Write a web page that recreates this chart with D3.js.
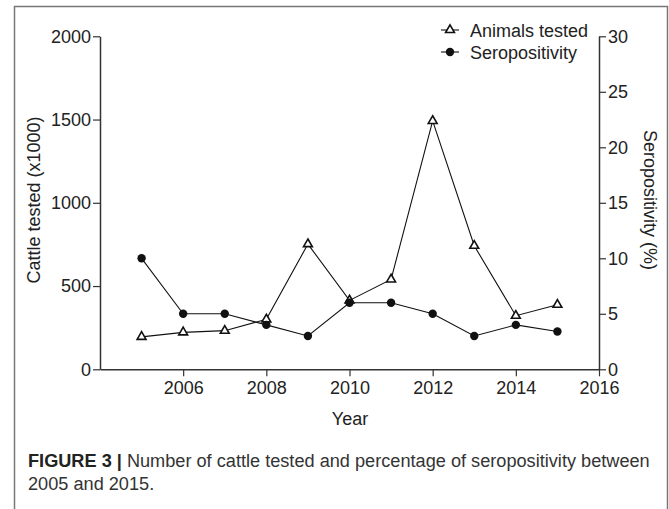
<!DOCTYPE html>
<html>
<head>
<meta charset="utf-8">
<script src="https://cdn.jsdelivr.net/npm/d3@7"></script>
<style>
  body { margin: 0; background: #fff; }
  svg { display: block; font-family: "Liberation Sans", Arial, Helvetica, sans-serif; }
</style>
</head>
<body>
<svg id="chart" width="669" height="509"></svg>
<script>
const years = [2005, 2006, 2007, 2008, 2009, 2010, 2011, 2012, 2013, 2014, 2015];
const animalsTested = [195, 222, 232, 300, 752, 414, 540, 1492, 742, 322, 388];
const seropositivity = [10, 5, 5, 4, 3, 6, 6, 5, 3, 4, 3.4];
const xTicks = [2006, 2008, 2010, 2012, 2014, 2016];
const leftTicks = [0, 500, 1000, 1500, 2000];
const rightTicks = [0, 5, 10, 15, 20, 25, 30];

const svg = d3.select('#chart');
const axisColor = '#333';
const fs = '18px';

// frame around the figure
svg.append('rect')
  .attr('x', 14.5).attr('y', 6.5)
  .attr('width', 653).attr('height', 520)
  .attr('fill', 'none')
  .attr('stroke', '#777')
  .attr('stroke-width', 1.5);

const x = d3.scaleLinear().domain([2004, 2016]).range([100, 599]);
const yLeft = d3.scaleLinear().domain([0, 2000]).range([369.3, 36.3]);
const yRight = d3.scaleLinear().domain([0, 30]).range([369.3, 36.3]);

function styleAxis(g) {
  g.select('.domain').attr('stroke', axisColor).attr('stroke-width', 1.5);
  g.selectAll('.tick line').attr('stroke', axisColor).attr('stroke-width', 1.2);
  g.selectAll('.tick text').attr('fill', '#222').style('font-size', fs);
}

svg.append('g')
  .attr('transform', 'translate(0,369.3)')
  .call(d3.axisBottom(x).tickValues(xTicks).tickFormat(d3.format('d')).tickSize(7).tickPadding(5).tickSizeOuter(0))
  .call(styleAxis);

svg.append('g')
  .attr('transform', 'translate(100,0)')
  .call(d3.axisLeft(yLeft).tickValues(leftTicks).tickFormat(d3.format('d')).tickSize(7).tickPadding(2).tickSizeOuter(0))
  .call(styleAxis);

svg.append('g')
  .attr('transform', 'translate(599,0)')
  .call(d3.axisRight(yRight).tickValues(rightTicks).tickSize(7).tickPadding(2).tickSizeOuter(0))
  .call(styleAxis);

// axis titles
svg.append('text')
  .attr('transform', 'translate(40,200) rotate(-90)')
  .attr('text-anchor', 'middle')
  .attr('fill', '#222')
  .style('font-size', fs)
  .text('Cattle tested (x1000)');

svg.append('text')
  .attr('transform', 'translate(644,200) rotate(90)')
  .attr('text-anchor', 'middle')
  .attr('fill', '#222')
  .style('font-size', fs)
  .text('Seropositivity (%)');

svg.append('text')
  .attr('x', 350).attr('y', 425)
  .attr('text-anchor', 'middle')
  .attr('fill', '#222')
  .style('font-size', fs)
  .text('Year');

// series
const animalsLine = d3.line().x((d, i) => x(years[i])).y(d => yLeft(d));
const seroLine = d3.line().x((d, i) => x(years[i])).y(d => yRight(d));
const triangle = d3.symbol().type(d3.symbolTriangle).size(34);

svg.append('path')
  .attr('d', animalsLine(animalsTested))
  .attr('fill', 'none').attr('stroke', '#111').attr('stroke-width', 1.1);

svg.selectAll('.tri')
  .data(animalsTested)
  .join('path')
  .attr('class', 'tri')
  .attr('transform', (d, i) => `translate(${x(years[i])},${yLeft(d)})`)
  .attr('d', triangle)
  .attr('fill', '#fff').attr('stroke', '#111').attr('stroke-width', 1.6);

svg.append('path')
  .attr('d', seroLine(seropositivity))
  .attr('fill', 'none').attr('stroke', '#111').attr('stroke-width', 1.1);

svg.selectAll('.dot')
  .data(seropositivity)
  .join('circle')
  .attr('class', 'dot')
  .attr('cx', (d, i) => x(years[i]))
  .attr('cy', d => yRight(d))
  .attr('r', 4.2)
  .attr('fill', '#111');

// legend
const legend = svg.append('g');
[['Animals tested', 30], ['Seropositivity', 52]].forEach(([label, ly], k) => {
  legend.append('line')
    .attr('x1', 441).attr('x2', 459).attr('y1', ly).attr('y2', ly)
    .attr('stroke', '#111').attr('stroke-width', 1.1);
  if (k === 0) {
    legend.append('path')
      .attr('transform', `translate(450,${ly})`)
      .attr('d', triangle)
      .attr('fill', '#fff').attr('stroke', '#111').attr('stroke-width', 1.6);
  } else {
    legend.append('circle').attr('cx', 450).attr('cy', ly).attr('r', 4.2).attr('fill', '#111');
  }
  legend.append('text')
    .attr('x', 470).attr('y', ly + 6.5)
    .attr('fill', '#222')
    .style('font-size', fs)
    .text(label);
});

// caption: condensed look, squeezed to the reference width
const capW = 622;
const cap1 = svg.append('text')
  .attr('x', 28).attr('y', 467)
  .attr('fill', '#333')
  .style('font-size', '19px');
cap1.append('tspan').style('font-weight', 'bold').attr('fill', '#222').text('FIGURE 3 | ');
cap1.append('tspan').text('Number of cattle tested and percentage of seropositivity between');
const w1 = cap1.node().getComputedTextLength();
const sx = capW / w1;
cap1.attr('transform', `translate(28,0) scale(${sx},1) translate(-28,0)`);

svg.append('text')
  .attr('x', 28).attr('y', 490)
  .attr('fill', '#333')
  .style('font-size', '19px')
  .attr('transform', `translate(28,0) scale(${sx},1) translate(-28,0)`)
  .text('2005 and 2015.');
</script>
</body>
</html>
